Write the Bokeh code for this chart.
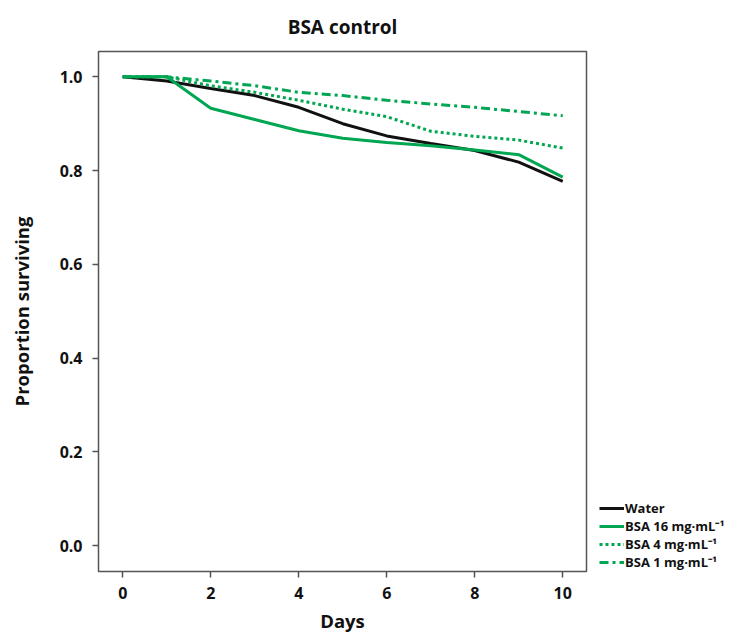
from bokeh.plotting import figure
from bokeh.models import Range1d, Legend, LegendItem, FixedTicker, CustomJSTickFormatter
from bokeh.embed import file_html
from bokeh.resources import INLINE

days = [0, 1, 2, 3, 4, 5, 6, 7, 8, 9, 10]
water = [1.0, 0.991, 0.975, 0.96, 0.935, 0.90, 0.874, 0.858, 0.843, 0.818, 0.777]
bsa16 = [1.0, 1.0, 0.933, 0.909, 0.885, 0.869, 0.86, 0.853, 0.844, 0.834, 0.786]
bsa4 = [1.0, 1.0, 0.981, 0.967, 0.95, 0.931, 0.915, 0.884, 0.873, 0.865, 0.848]
bsa1 = [1.0, 1.0, 0.991, 0.981, 0.967, 0.96, 0.95, 0.942, 0.935, 0.926, 0.917]
labels = ["Water", "BSA 16 mg\u00b7mL\u207b\u00b9", "BSA 4 mg\u00b7mL\u207b\u00b9", "BSA 1 mg\u00b7mL\u207b\u00b9"]

GREEN = "#00a651"
FONT = "Open Sans"

p = figure(frame_width=488, frame_height=520, output_backend="svg", toolbar_location=None,
           x_range=Range1d(-0.55, 10.54), y_range=Range1d(-0.055, 1.054),
           title="BSA control", min_border_left=98, min_border_right=0,
           min_border_top=50, min_border_bottom=45)
p.title.align = "center"
p.title.text_font = FONT
p.title.text_font_size = "19px"
p.title.text_font_style = "bold"
p.title.text_color = "#111111"
p.title.standoff = 23

p.grid.visible = False
p.outline_line_color = "#555555"
p.outline_line_width = 1.5

for ax in (p.xaxis, p.yaxis):
    ax.axis_line_color = None
    ax.major_tick_line_color = "#555555"
    ax.major_tick_line_width = 1.5
    ax.major_tick_out = 6
    ax.major_tick_in = 0
    ax.minor_tick_line_color = None
    ax.major_label_text_font = FONT
    ax.major_label_text_font_size = "16px"
    ax.major_label_text_font_style = "bold"
    ax.major_label_text_color = "#111111"
    ax.axis_label_text_font = FONT
    ax.axis_label_text_font_size = "18.5px"
    ax.axis_label_text_font_style = "bold"
    ax.axis_label_text_color = "#111111"

p.xaxis.ticker = FixedTicker(ticks=[0, 2, 4, 6, 8, 10])
p.yaxis.ticker = FixedTicker(ticks=[0.0, 0.2, 0.4, 0.6, 0.8, 1.0])
p.yaxis.formatter = CustomJSTickFormatter(code="return tick.toFixed(1);")
p.xaxis.axis_label = "Days"
p.yaxis.axis_label = "Proportion surviving"
p.xaxis.major_label_standoff = 9
p.xaxis.axis_label_standoff = 6
p.yaxis.major_label_standoff = 10
p.yaxis.axis_label_standoff = 23

r1 = p.line(days, water, line_color="#111111", line_width=3)
r2 = p.line(days, bsa16, line_color=GREEN, line_width=3)
r3 = p.line(days, bsa4, line_color=GREEN, line_width=3, line_dash="3 3")
r4 = p.line(days, bsa1, line_color=GREEN, line_width=3, line_dash="9 4 3 4")

legend = Legend(items=[LegendItem(label=l, renderers=[r]) for l, r in zip(labels, [r1, r2, r3, r4])],
                location=(13, 0), border_line_color=None, background_fill_alpha=0,
                label_text_font=FONT, label_text_font_size="13px", label_text_font_style="bold",
                label_text_color="#111111", glyph_width=25, glyph_height=14, label_height=14,
                spacing=0, padding=3, margin=0, label_standoff=1)
p.add_layout(legend, "right")

open("out.html", "w").write(file_html(p, INLINE))
